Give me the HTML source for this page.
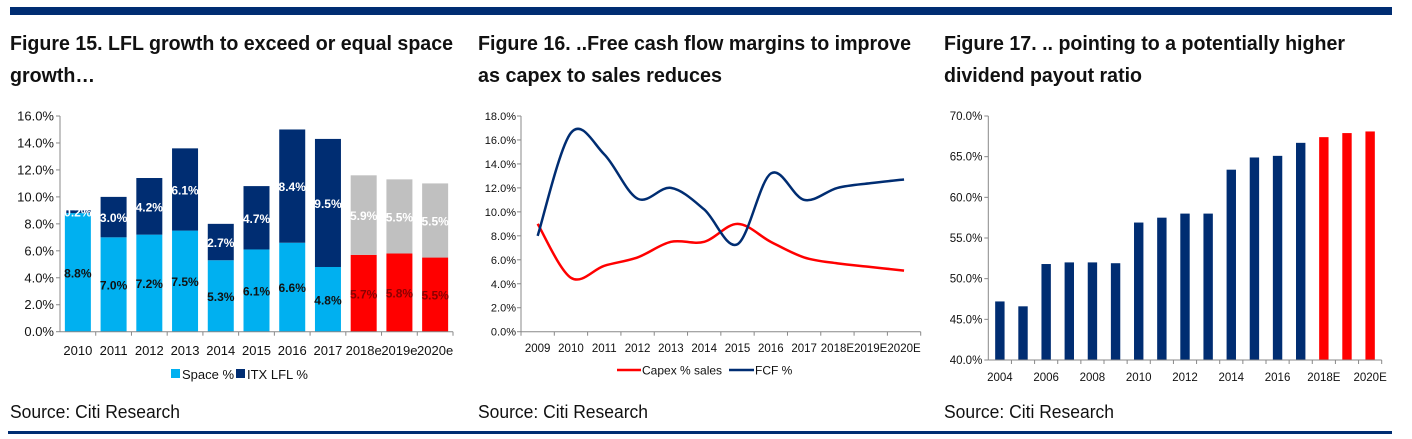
<!DOCTYPE html>
<html><head><meta charset="utf-8"><style>
html,body{margin:0;padding:0;background:#fff;}
svg{display:block;font-family:"Liberation Sans",Arial,sans-serif;}
</style></head><body>
<svg id="s" width="1412" height="439" viewBox="0 0 1412 439">
<rect x="10" y="7" width="1382" height="8" fill="#002d72"/>
<rect x="8" y="431" width="1384" height="3" fill="#002d72"/>
<g font-weight="bold" font-size="20" fill="#111">
<text x="10" y="50" textLength="443" lengthAdjust="spacingAndGlyphs">Figure 15. LFL growth to exceed or equal space</text>
<text x="10" y="82" textLength="85" lengthAdjust="spacingAndGlyphs">growth…</text>
<text x="478" y="50" textLength="433" lengthAdjust="spacingAndGlyphs">Figure 16. ..Free cash flow margins to improve</text>
<text x="478" y="82" textLength="244" lengthAdjust="spacingAndGlyphs">as capex to sales reduces</text>
<text x="944" y="50" textLength="401" lengthAdjust="spacingAndGlyphs">Figure 17. .. pointing to a potentially higher</text>
<text x="944" y="82" textLength="198" lengthAdjust="spacingAndGlyphs">dividend payout ratio</text>
</g>
<g font-size="18" fill="#111">
<text x="10" y="418" textLength="170" lengthAdjust="spacingAndGlyphs">Source: Citi Research</text>
<text x="478" y="418" textLength="170" lengthAdjust="spacingAndGlyphs">Source: Citi Research</text>
<text x="944" y="418" textLength="170" lengthAdjust="spacingAndGlyphs">Source: Citi Research</text>
</g>
<g id="c1"></g><g id="c2"></g><g id="c3"></g>
</svg>
<script>
// Chart 1 data
const c1Cats = ["2010","2011","2012","2013","2014","2015","2016","2017","2018e","2019e","2020e"];
const c1Space = [8.8,7.0,7.2,7.5,5.3,6.1,6.6,4.8,5.7,5.8,5.5];
const c1Lfl = [0.2,3.0,4.2,6.1,2.7,4.7,8.4,9.5,5.9,5.5,5.5];
const c1Ticks = [0,2,4,6,8,10,12,14,16];
// Chart 2 data
const c2Cats = ["2009","2010","2011","2012","2013","2014","2015","2016","2017","2018E","2019E","2020E"];
const c2Capex = [9.0,4.5,5.5,6.2,7.5,7.5,9.0,7.5,6.2,5.7,5.4,5.1];
const c2Fcf = [8.0,16.6,14.8,11.1,12.0,10.2,7.3,13.2,11.0,12.0,12.4,12.7];
const c2Ticks = [0,2,4,6,8,10,12,14,16,18];
// Chart 3 data
const c3Cats = ["2004","2005","2006","2007","2008","2009","2010","2011","2012","2013","2014","2015","2016","2017","2018E","2019E","2020E"];
const c3Vals = [47.2,46.6,51.8,52.0,52.0,51.9,56.9,57.5,58.0,58.0,63.4,64.9,65.1,66.7,67.4,67.9,68.1];
const c3Ticks = [40,45,50,55,60,65,70];

const NS="http://www.w3.org/2000/svg";
function mk(p,t,a){const e=document.createElementNS(NS,t);for(const k in a)e.setAttribute(k,a[k]);p.appendChild(e);return e;}
const NAVY="#002d72",CYAN="#00b0f0",RED="#ff0000",GRAY="#c0c0c0";

// ---- Chart 1
(function(){
const g=document.getElementById('c1');
const x0=60,x1=453,y0=331.7,yTop=116,vmax=16;
const y=v=>y0-(v/vmax)*(y0-yTop);
const bw=(x1-x0)/c1Cats.length;
const xc=i=>x0+bw*(i+0.5);
c1Ticks.forEach(t=>{
 const tx=mk(g,'text',{x:x0-6,y:y(t)+4.5,'text-anchor':'end','font-size':13,fill:'#111'});tx.textContent=t.toFixed(1)+'%';
 
 
 const l=mk(g,'line',{x1:x0-4,x2:x0,y1:y(t),y2:y(t),stroke:'#888'});
});
c1Cats.forEach((c,i)=>{
 const est=i>=8;
 const s=mk(g,'rect',{x:xc(i)-13,y:y(c1Space[i]),width:26,height:y0-y(c1Space[i]),fill:est?RED:CYAN});
 
 
 const top=c1Space[i]+c1Lfl[i];
 const l=mk(g,'rect',{x:xc(i)-13,y:y(top),width:26,height:y(c1Space[i])-y(top),fill:est?GRAY:NAVY});
 
 
 const t1=mk(g,'text',{x:xc(i),y:y(c1Space[i]/2)+5,'text-anchor':'middle','font-size':12,'font-weight':'bold',fill:est?'#8b0000':'#111'});t1.textContent=c1Space[i].toFixed(1)+'%';
 
 
 const t2=mk(g,'text',{x:xc(i),y:y(c1Space[i]+c1Lfl[i]/2)+5,'text-anchor':'middle','font-size':12,'font-weight':'bold',fill:'#fff'});t2.textContent=c1Lfl[i].toFixed(1)+'%';
 
 
 const xl=mk(g,'text',{x:xc(i),y:355,'text-anchor':'middle','font-size':13,fill:'#111'});xl.textContent=c;
 
 
 mk(g,'line',{x1:x0+bw*(i+1),x2:x0+bw*(i+1),y1:y0,y2:y0+4,stroke:'#888'});
});
mk(g,'line',{x1:x0,x2:x0,y1:yTop,y2:y0,stroke:'#888'});
mk(g,'line',{x1:x0,x2:x1,y1:y0,y2:y0,stroke:'#888'});
const lg=mk(g,'g',{});


mk(lg,'rect',{x:171,y:369,width:9,height:9,fill:CYAN});
mk(lg,'text',{x:182,y:379,'font-size':13,fill:'#111'}).textContent='Space %';
mk(lg,'rect',{x:236,y:369,width:9,height:9,fill:NAVY});
mk(lg,'text',{x:247,y:379,'font-size':13,fill:'#111'}).textContent='ITX LFL %';
})();

// ---- Chart 2
(function(){
const g=document.getElementById('c2');
const x0=521,x1=920.7,y0=331.7,yTop=116,vmax=18;
const y=v=>y0-(v/vmax)*(y0-yTop);
const bw=(x1-x0)/c2Cats.length;
const xc=i=>x0+bw*(i+0.5);
c2Ticks.forEach(t=>{
 const tx=mk(g,'text',{x:x0-5,y:y(t)+4,'text-anchor':'end','font-size':11,fill:'#111'});tx.textContent=t.toFixed(1)+'%';
 
 
 mk(g,'line',{x1:x0-4,x2:x0,y1:y(t),y2:y(t),stroke:'#888'});
});
c2Cats.forEach((c,i)=>{
 const xl=mk(g,'text',{x:xc(i),y:352,'text-anchor':'middle','font-size':11.5,fill:'#111'});xl.textContent=c;
 
 
 mk(g,'line',{x1:x0+bw*i,x2:x0+bw*i,y1:y0,y2:y0+4,stroke:'#888'});
});
mk(g,'line',{x1:x1,x2:x1,y1:y0,y2:y0+4,stroke:'#888'});
mk(g,'line',{x1:x0,x2:x0,y1:yTop,y2:y0,stroke:'#888'});
mk(g,'line',{x1:x0,x2:x1,y1:y0,y2:y0,stroke:'#888'});
function smooth(vals){
 const p=vals.map((v,i)=>[xc(i),y(v)]);
 let d='M'+p[0][0]+','+p[0][1];
 for(let i=0;i<p.length-1;i++){
  const a=p[i-1]||p[i],b=p[i],c=p[i+1],e=p[i+2]||c,k=1/6;
  d+=' C'+(b[0]+(c[0]-a[0])*k)+','+(b[1]+(c[1]-a[1])*k)+' '+(c[0]-(e[0]-b[0])*k)+','+(c[1]-(e[1]-b[1])*k)+' '+c[0]+','+c[1];
 }
 return d;
}
const l1=mk(g,'path',{d:smooth(c2Capex),fill:'none',stroke:RED,'stroke-width':2.5});


const l2=mk(g,'path',{d:smooth(c2Fcf),fill:'none',stroke:NAVY,'stroke-width':2.5});


const lg=mk(g,'g',{});


mk(lg,'line',{x1:617,x2:641,y1:370,y2:370,stroke:RED,'stroke-width':2.5});
mk(lg,'text',{x:642,y:374.5,'font-size':12,fill:'#111'}).textContent='Capex % sales';
mk(lg,'line',{x1:729,x2:754,y1:370,y2:370,stroke:NAVY,'stroke-width':2.5});
mk(lg,'text',{x:755,y:374.5,'font-size':12,fill:'#111'}).textContent='FCF %';
})();

// ---- Chart 3
(function(){
const g=document.getElementById('c3');
const x0=988.3,x1=1381.7,y0=360,yTop=116,vmin=40,vmax=70;
const y=v=>y0-((v-vmin)/(vmax-vmin))*(y0-yTop);
const bw=(x1-x0)/c3Cats.length;
const xc=i=>x0+bw*(i+0.5);
c3Ticks.forEach(t=>{
 const tx=mk(g,'text',{x:x0-6,y:y(t)+4,'text-anchor':'end','font-size':11.5,fill:'#111'});tx.textContent=t.toFixed(1)+'%';
 
 
 mk(g,'line',{x1:x0-4,x2:x0,y1:y(t),y2:y(t),stroke:'#888'});
});
c3Cats.forEach((c,i)=>{
 const r=mk(g,'rect',{x:xc(i)-4.7,y:y(c3Vals[i]),width:9.4,height:y0-y(c3Vals[i]),fill:i>=14?RED:NAVY});
 
 
 mk(g,'line',{x1:x0+bw*(i+1),x2:x0+bw*(i+1),y1:y0,y2:y0+4,stroke:'#888'});
 if(i%2===0){
  const xl=mk(g,'text',{x:xc(i),y:381,'text-anchor':'middle','font-size':11.5,fill:'#111'});xl.textContent=c;
  
  
 }
});
mk(g,'line',{x1:x0,x2:x0,y1:yTop,y2:y0,stroke:'#888'});
mk(g,'line',{x1:x0,x2:x1,y1:y0,y2:y0,stroke:'#888'});
})();
</script>
</body></html>
